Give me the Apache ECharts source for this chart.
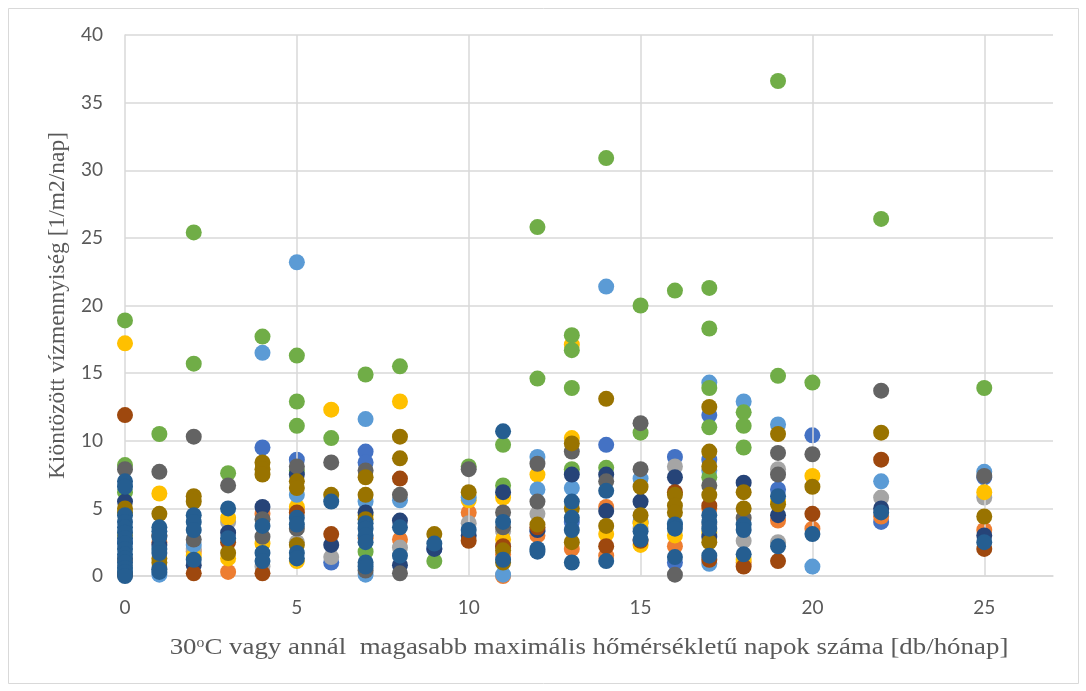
<!DOCTYPE html>
<html>
<head>
<meta charset="utf-8">
<script src="https://cdn.jsdelivr.net/npm/echarts@6/dist/echarts.min.js"></script>
<style>html,body{margin:0;padding:0;background:#fff}#c{width:1086px;height:691px}</style>
</head>
<body>
<div id="c"></div>
<script>
// Series names (Excel default palette order) and colours
const seriesNames = ['S1','S2','S3','S4','S5','S6','S7','S8','S9','S10','S11'];
const seriesColors = ['#4472C4','#ED7D31','#A5A5A5','#FFC000','#5B9BD5','#70AD47','#264478','#9E480E','#636363','#997300','#255E91'];
const xTicks = [0,5,10,15,20,25];
const yTicks = [0,5,10,15,20,25,30,35,40];
const xTitle = '30{sup|o}C vagy annál  magasabb maximális hőmérsékletű napok száma [db/hónap]';
const yTitle = 'Kiöntözött vízmennyiség [1/m2/nap]';

// [napok száma, vízmennyiség]
const s1 = [[0,2.5],[4,9.5],[5,8.6],[6,1.0],[7,9.2],[7,8.4],[9,2.0],[13,4.0],[14,9.7],[16,8.8],[16,1.0],[17,11.9],[17,8.6],[19,6.4],[20,10.4],[22,4.0],[25,7.3],[12,3.3],[15,4.0],[11,2.2]];
const s2 = [[0,1.2],[1,2.5],[2,1.8],[3,0.3],[4,4.6],[5,4.9],[8,2.7],[10,4.7],[11,1.6],[11,0],[12,3.0],[13,2.0],[14,5.1],[14,1.5],[16,2.2],[17,5.0],[18,1.0],[19,4.1],[20,3.5],[22,4.4],[25,3.4],[7,2.8]];
const s3 = [[0,0.8],[2,2.0],[3,4.0],[4,0.7],[5,2.5],[6,1.4],[8,2.1],[10,3.9],[11,3.3],[12,4.6],[16,8.1],[18,2.6],[19,7.9],[19,2.5],[22,5.8],[25,5.8],[1,0.6],[15,3.5],[17,3.8]];
const s4 = [[0,17.2],[0,3.0],[1,6.1],[3,4.3],[3,1.3],[4,2.4],[5,5.1],[5,1.1],[6,12.3],[7,4.5],[8,12.9],[10,5.6],[11,5.8],[11,2.7],[12,7.5],[13,17.1],[13,10.2],[14,3.1],[15,2.3],[15,3.9],[16,3.0],[17,3.2],[18,1.2],[19,5.5],[20,7.4],[25,6.2],[2,1.5]];
const s5 = [[0,0.2],[1,0.1],[2,2.3],[4,16.5],[5,23.2],[5,6.0],[7,11.6],[7,5.5],[7,0.1],[8,5.6],[10,5.8],[11,0.1],[12,8.8],[12,6.4],[13,6.5],[14,21.4],[15,7.2],[17,14.3],[17,7.8],[17,0.9],[18,12.9],[19,11.2],[20,0.7],[22,7.0],[25,7.7],[16,3.9]];
const s6 = [[0,18.9],[0,8.2],[0,6.2],[1,10.5],[2,25.4],[2,15.7],[3,7.6],[4,17.7],[5,16.3],[5,12.9],[5,11.1],[5,7.8],[6,10.2],[7,14.9],[7,1.8],[8,15.5],[9,1.1],[10,8.1],[11,9.7],[11,6.7],[12,25.8],[12,14.6],[13,17.8],[13,16.7],[13,13.9],[13,7.9],[14,30.9],[14,8.0],[15,20.0],[15,10.6],[16,21.1],[17,21.3],[17,18.3],[17,13.9],[17,11.0],[17,7.3],[18,12.1],[18,11.1],[18,9.5],[19,36.6],[19,14.8],[20,14.3],[22,26.4],[25,13.9]];
const s7 = [[0,5.5],[1,2.3],[2,0.8],[3,3.2],[4,5.1],[5,7.5],[6,2.3],[7,4.7],[8,4.1],[8,0.8],[9,2.0],[11,6.2],[12,3.4],[13,7.5],[14,7.5],[14,4.8],[15,5.5],[16,7.3],[17,2.9],[18,6.9],[19,4.5],[22,5.0],[25,3.0],[10,3.0]];
const s8 = [[0,11.9],[0,0.1],[1,3.0],[2,0.2],[3,2.5],[4,0.2],[5,4.7],[6,3.1],[8,7.2],[10,2.6],[11,2.2],[12,3.6],[14,2.2],[15,2.6],[16,6.2],[17,5.2],[17,1.2],[18,0.7],[19,1.1],[20,4.6],[22,8.6],[25,2.0]];
const s9 = [[0,7.9],[1,7.7],[2,10.3],[2,2.7],[3,6.7],[4,4.2],[4,2.9],[5,8.1],[5,3.5],[6,8.4],[7,7.8],[7,0.4],[8,6.0],[8,0.2],[10,7.9],[11,4.7],[11,3.6],[12,8.3],[12,5.5],[13,9.2],[14,7.0],[15,11.3],[15,7.9],[16,0.1],[17,6.7],[18,4.3],[19,9.1],[19,7.5],[20,9.0],[22,13.7],[25,7.4]];
const s10 = [[0,5.0],[0,4.7],[1,4.6],[1,1.3],[1,1.0],[2,5.9],[2,5.5],[3,1.7],[4,8.4],[4,7.9],[4,7.5],[5,7.0],[5,6.5],[5,2.3],[6,6.0],[7,7.3],[7,6.0],[7,4.2],[8,10.3],[8,8.7],[9,3.1],[10,6.2],[11,1.9],[11,1.0],[12,3.8],[13,9.8],[13,5.0],[13,2.5],[14,13.1],[14,3.7],[15,6.6],[15,4.5],[16,6.0],[16,5.2],[16,4.7],[17,12.5],[17,9.2],[17,8.1],[17,6.0],[17,2.5],[18,6.2],[18,5.0],[19,10.5],[19,5.3],[20,6.6],[22,10.6],[25,4.4]];
const s11 = [[0,7.0],[0,6.6],[0,4.5],[0,4.0],[0,3.6],[0,3.2],[0,2.8],[0,2.4],[0,2.0],[0,1.6],[0,1.3],[0,1.0],[0,0.6],[0,0.3],[0,0],[1,3.6],[1,3.3],[1,2.9],[1,2.0],[1,1.7],[1,0.5],[1,0.3],[2,4.5],[2,4.0],[2,3.4],[2,1.2],[3,5.0],[3,2.8],[4,3.7],[4,1.7],[4,1.1],[5,4.3],[5,3.8],[5,1.7],[5,1.3],[6,5.5],[7,3.9],[7,3.5],[7,3.0],[7,2.5],[7,1.0],[7,0.7],[8,3.6],[8,1.5],[9,2.4],[10,3.4],[11,10.7],[11,4.0],[11,1.2],[12,2.0],[12,1.8],[13,5.5],[13,4.3],[13,3.4],[13,1.0],[14,6.3],[14,1.1],[15,3.3],[15,2.7],[16,3.8],[16,3.5],[16,1.4],[17,4.5],[17,4.0],[17,3.5],[17,1.5],[18,3.8],[18,3.4],[18,1.6],[19,5.9],[19,2.2],[20,3.1],[22,4.7],[25,2.5]];

const allData = [s1,s2,s3,s4,s5,s6,s7,s8,s9,s10,s11];

const chart = echarts.init(document.getElementById('c'), null, {renderer:'canvas'});
const series = allData.map((d,i)=>({
  name: seriesNames[i], type:'scatter', data:d, symbol:'circle', symbolSize:16,
  itemStyle:{color:seriesColors[i], opacity:1}, z:2+i
}));
// vertical gridlines at major ticks only (none at the right edge)
series.push({
  type:'scatter', data:[], silent:true,
  markLine:{silent:true, symbol:['none','none'], label:{show:false},
    lineStyle:{color:'#D9D9D9', width:1.5, type:'solid'},
    data: xTicks.filter(v=>v>0).map(v=>({xAxis:v}))}, z:1
});

chart.setOption({
  animation:false,
  backgroundColor:'#ffffff',
  graphic:[
    {type:'rect', shape:{x:8.5,y:8.5,width:1070,height:675}, style:{fill:'none', stroke:'#D9D9D9', lineWidth:1}, z:-1},
    {type:'text', x:589, y:648, scaleX:1.12, z:5,
      style:{text:xTitle, align:'center', verticalAlign:'middle',
        fontFamily:'Liberation Serif', fontSize:24, fill:'#595959',
        rich:{sup:{fontFamily:'Liberation Serif', fontSize:14, fill:'#595959', verticalAlign:'top', padding:[0,0,10,0]}}}}
  ],
  grid:{left:125, right:33, top:35, bottom:115},
  xAxis:{
    type:'value', min:0, max:27, interval:5,
    axisLine:{show:true, lineStyle:{color:'#D9D9D9', width:1.5}},
    axisTick:{show:false},
    axisLabel:{fontFamily:'Lato', fontSize:19, color:'#595959', margin:22, showMaxLabel:false,
      formatter:v=> (v%5===0 ? String(v) : '')},
    splitLine:{show:false}
  },
  yAxis:{
    type:'value', min:0, max:40, interval:5,
    name:yTitle,
    nameLocation:'middle', nameGap:53,
    nameTextStyle:{fontFamily:'Liberation Serif', fontSize:23.5, color:'#595959'},
    axisLine:{show:true, lineStyle:{color:'#D9D9D9', width:1.5}},
    axisTick:{show:false},
    axisLabel:{fontFamily:'Lato', fontSize:19, color:'#595959', margin:22},
    splitLine:{show:true, lineStyle:{color:'#D9D9D9', width:1.5}}
  },
  series: series
});
</script>
</body>
</html>
